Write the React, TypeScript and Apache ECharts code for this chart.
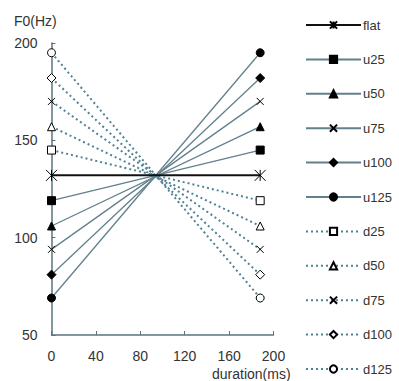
import React, { useEffect, useRef } from "react";
import * as echarts from "echarts";

const durations = [0, 188];
const seriesNames = ["flat", "u25", "u50", "u75", "u100", "u125", "d25", "d50", "d75", "d100", "d125"];
const startF0 = [132, 119, 106, 94, 81, 69, 145, 157, 170, 182, 195];
const endF0 = [132, 145, 157, 170, 182, 195, 119, 106, 94, 81, 69];
const xTicks = [0, 40, 80, 120, 160, 200];
const yTicks = [50, 100, 150, 200];

const STAR = "path://M0,0L10,10M10,0L0,10M5,0L5,10";
const XMARK = "path://M0,0L10,10M10,0L0,10";

const symbolStyles: Record<string, { symbol: string; fill: string; size: number }> = {
  flat: { symbol: STAR, fill: "none", size: 11 },
  u25: { symbol: "rect", fill: "#000", size: 8 },
  u50: { symbol: "triangle", fill: "#000", size: 8 },
  u75: { symbol: XMARK, fill: "none", size: 7 },
  u100: { symbol: "diamond", fill: "#000", size: 9 },
  u125: { symbol: "circle", fill: "#000", size: 8 },
  d25: { symbol: "rect", fill: "#fff", size: 8 },
  d50: { symbol: "triangle", fill: "#fff", size: 8 },
  d75: { symbol: XMARK, fill: "none", size: 7 },
  d100: { symbol: "diamond", fill: "#fff", size: 9 },
  d125: { symbol: "circle", fill: "#fff", size: 8 },
};

export default function App() {
  const ref = useRef<HTMLDivElement>(null);
  useEffect(() => {
    if (!ref.current) return;
    const chart = echarts.init(ref.current, undefined, { renderer: "svg" });
    const font = "'Liberation Sans', Arial, sans-serif";
    const series = seriesNames.map((name, i) => {
      const s = symbolStyles[name];
      const isFlat = name === "flat";
      const dotted = name.startsWith("d");
      return {
        name,
        type: "line",
        data: durations.map((d, j) => [d, j === 0 ? startF0[i] : endF0[i]]),
        symbol: s.symbol,
        symbolSize: s.size,
        showAllSymbol: true,
        z: isFlat ? 3 : dotted ? 1 : 2,
        lineStyle: {
          color: isFlat ? "#111" : dotted ? "#4f8294" : "#62808c",
          width: isFlat ? 2 : dotted ? 2 : 1.3,
          type: dotted ? [2, 3] : "solid",
        },
        itemStyle: {
          color: s.fill,
          borderColor: "#000",
          borderWidth: 1,
        },
        emphasis: { disabled: true },
      };
    });
    chart.setOption({
      animation: false,
      backgroundColor: "#fff",
      grid: { left: 51.5, top: 43, width: 222, bottom: 46 },
      xAxis: {
        type: "value",
        min: xTicks[0],
        max: xTicks[xTicks.length - 1],
        interval: 40,
        axisLine: { show: true, lineStyle: { color: "#5a7480", width: 1.5 } },
        axisTick: { show: true, inside: true, length: 4, lineStyle: { color: "#5a7480" } },
        splitLine: { show: false },
        axisLabel: { margin: 14, fontSize: 14, color: "#333", fontFamily: font },
      },
      yAxis: {
        type: "value",
        min: yTicks[0],
        max: yTicks[yTicks.length - 1],
        interval: 50,
        axisLine: { show: true, lineStyle: { color: "#5a7480", width: 1.5 } },
        axisTick: { show: true, inside: true, length: 4, lineStyle: { color: "#5a7480" } },
        splitLine: { show: false },
        axisLabel: { margin: 14, fontSize: 14, color: "#333", fontFamily: font },
      },
      legend: {
        orient: "vertical",
        left: 305,
        top: 17,
        padding: 0,
        itemWidth: 55,
        itemHeight: 9,
        itemGap: 18.4,
        textStyle: { fontSize: 13, lineHeight: 16, color: "#333", fontFamily: font, padding: [0, 0, 0, -3] },
        data: seriesNames,
      },
      graphic: [
        { type: "text", left: 14, top: 14, style: { text: "F0(Hz)", fontSize: 14, fill: "#333", fontFamily: font } },
        { type: "text", left: 212, top: 367, style: { text: "duration(ms)", fontSize: 14, fill: "#333", fontFamily: font } },
      ],
      series,
    });
    return () => chart.dispose();
  }, []);
  return <div ref={ref} style={{ position: "fixed", left: 0, top: 0, width: 399, height: 381 }} />;
}
